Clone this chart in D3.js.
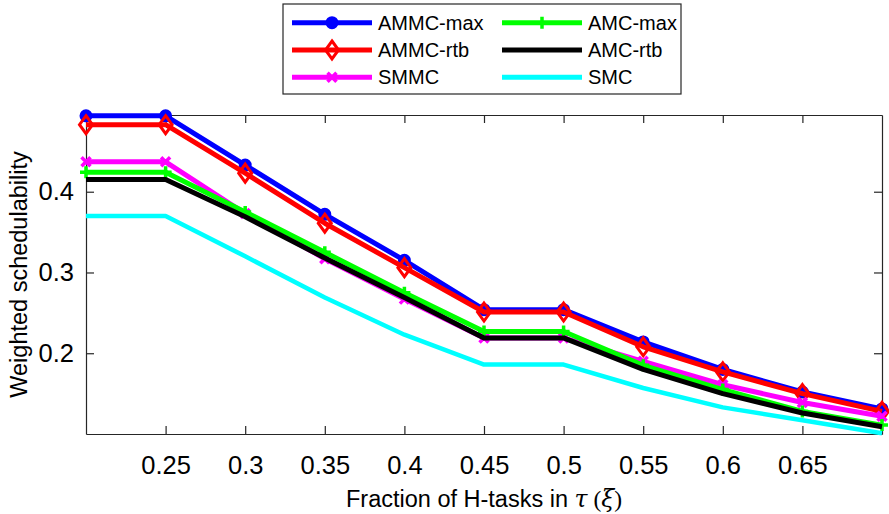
<!DOCTYPE html>
<html>
<head>
<meta charset="utf-8">
<script src="https://cdn.jsdelivr.net/npm/d3@7"></script>
<style>
  body { margin: 0; background: #fff; }
  text { font-family: "Liberation Sans", Arial, Helvetica, sans-serif; fill: #000; }
</style>
</head>
<body>
<script>
const config = {
  width: 889,
  height: 514
};

// data
const fractions = [0.2, 0.25, 0.3, 0.35, 0.4, 0.45, 0.5, 0.55, 0.6, 0.65, 0.7];
const ammcMax = [0.494, 0.494, 0.433, 0.372, 0.315, 0.254, 0.254, 0.214, 0.180, 0.152, 0.131];
const ammcRtb = [0.483, 0.483, 0.423, 0.361, 0.306, 0.251, 0.251, 0.208, 0.177, 0.150, 0.128];
const smmc = [0.437, 0.437, 0.373, 0.317, 0.267, 0.219, 0.219, 0.190, 0.161, 0.139, 0.122];
const amcMax = [0.424, 0.424, 0.375, 0.325, 0.275, 0.227, 0.227, 0.185, 0.155, 0.128, 0.111];
const amcRtb = [0.415, 0.415, 0.369, 0.318, 0.269, 0.219, 0.219, 0.180, 0.150, 0.126, 0.109];
const smc = [0.370, 0.370, 0.320, 0.269, 0.223, 0.186, 0.186, 0.157, 0.133, 0.117, 0.101];

const xTicks = [0.25, 0.3, 0.35, 0.4, 0.45, 0.5, 0.55, 0.6, 0.65];
const yTicks = [0.2, 0.3, 0.4];

const series = [
  { name: "AMMC-max", values: ammcMax, color: "#0000ff", marker: "circle" },
  { name: "AMMC-rtb", values: ammcRtb, color: "#ff0000", marker: "diamond" },
  { name: "SMMC", values: smmc, color: "#ff00ff", marker: "x" },
  { name: "AMC-max", values: amcMax, color: "#00ff00", marker: "plus" },
  { name: "AMC-rtb", values: amcRtb, color: "#000000", marker: null },
  { name: "SMC", values: smc, color: "#00ffff", marker: null }
];

const plot = { left: 86, right: 882, top: 115, bottom: 434 };

const svg = d3
  .select("body")
  .append("svg")
  .attr("width", config.width)
  .attr("height", config.height);

const x = d3.scaleLinear().domain([0.2, 0.7]).range([plot.left, plot.right]);
const y = d3.scaleLinear().domain([0.1, 0.495]).range([plot.bottom, plot.top]);

// axes, ticks point inward like matlab
const axisColor = "#262626";
const styleAxis = g => {
  g.selectAll("path, line").attr("stroke", axisColor).attr("stroke-width", 1.2);
  g.selectAll("text")
    .attr("font-size", 25.5)
    .attr("fill", "#000")
    .style("font-family", '"Liberation Sans", Arial, sans-serif');
};

svg.append("g")
  .attr("transform", `translate(0,${plot.bottom})`)
  .call(d3.axisBottom(x).tickValues(xTicks).tickSizeInner(-8).tickSizeOuter(0).tickPadding(22).tickFormat(d3.format("")))
  .call(styleAxis);

svg.append("g")
  .attr("transform", `translate(0,${plot.top})`)
  .call(d3.axisTop(x).tickValues(xTicks).tickSizeInner(-8).tickSizeOuter(0).tickFormat(""))
  .call(styleAxis);

svg.append("g")
  .attr("transform", `translate(${plot.left},0)`)
  .call(d3.axisLeft(y).tickValues(yTicks).tickSizeInner(-8).tickSizeOuter(0).tickPadding(12).tickFormat(d3.format("")))
  .call(styleAxis);

svg.append("g")
  .attr("transform", `translate(${plot.right},0)`)
  .call(d3.axisRight(y).tickValues(yTicks).tickSizeInner(-8).tickSizeOuter(0).tickFormat(""))
  .call(styleAxis);

// marker drawing
const drawMarker = (g, type, cx, cy, color) => {
  if (type === "circle") {
    g.append("circle").attr("cx", cx).attr("cy", cy).attr("r", 5)
      .attr("fill", color).attr("stroke", color).attr("stroke-width", 3);
  } else if (type === "diamond") {
    g.append("path")
      .attr("d", `M${cx},${cy - 9}L${cx + 6.5},${cy}L${cx},${cy + 9}L${cx - 6.5},${cy}Z`)
      .attr("fill", "none").attr("stroke", color).attr("stroke-width", 3);
  } else if (type === "x") {
    const s = 4.5;
    g.append("path")
      .attr("d", `M${cx - s},${cy - s}L${cx + s},${cy + s}M${cx - s},${cy + s}L${cx + s},${cy - s}`)
      .attr("stroke", color).attr("stroke-width", 3.5);
  } else if (type === "plus") {
    const s = 6;
    g.append("path")
      .attr("d", `M${cx - s},${cy}L${cx + s},${cy}M${cx},${cy - s}L${cx},${cy + s}`)
      .attr("stroke", color).attr("stroke-width", 3.5);
  }
};

const line = d3.line().x((d, i) => x(fractions[i])).y(d => y(d));

series.forEach(s => {
  const g = svg.append("g");
  g.append("path")
    .attr("d", line(s.values))
    .attr("fill", "none")
    .attr("stroke", s.color)
    .attr("stroke-width", s.name === "SMC" ? 4.5 : 5)
    .attr("stroke-linejoin", "round");
  if (s.marker) {
    s.values.forEach((v, i) => drawMarker(g, s.marker, x(fractions[i]), y(v), s.color));
  }
});

// axis labels
svg.append("text")
  .attr("x", (plot.left + plot.right) / 2)
  .attr("y", 507)
  .attr("text-anchor", "middle")
  .attr("font-size", 23.5)
  .call(t => {
    t.append("tspan").text("Fraction of H-tasks in ");
    t.append("tspan").text("τ").style("font-family", '"DejaVu Serif", "Liberation Serif", serif').attr("font-style", "italic");
    t.append("tspan").text(" (").style("font-family", '"Liberation Serif", serif');
    t.append("tspan").text("ξ").style("font-family", '"DejaVu Serif", "Liberation Serif", serif').attr("font-style", "italic");
    t.append("tspan").text(")").style("font-family", '"Liberation Serif", serif');
  });

svg.append("text")
  .attr("transform", `translate(27,${(plot.top + plot.bottom) / 2}) rotate(-90)`)
  .attr("text-anchor", "middle")
  .attr("font-size", 23.5)
  .text("Weighted schedulability");

// legend, two columns
const legend = svg.append("g");
legend.append("rect")
  .attr("x", 283).attr("y", 4).attr("width", 398).attr("height", 90)
  .attr("fill", "#fff").attr("stroke", axisColor).attr("stroke-width", 1.2);

const colX = [292, 502];
const rowY = [22.7, 50, 77.3];
series.forEach((s, i) => {
  const cx = colX[Math.floor(i / 3)];
  const cy = rowY[i % 3];
  legend.append("line")
    .attr("x1", cx).attr("x2", cx + 80).attr("y1", cy).attr("y2", cy)
    .attr("stroke", s.color).attr("stroke-width", 5);
  if (s.marker) drawMarker(legend, s.marker, cx + 40, cy, s.color);
  legend.append("text")
    .attr("x", cx + 86).attr("y", cy + 7)
    .attr("font-size", 20)
    .text(s.name);
});
</script>
</body>
</html>
